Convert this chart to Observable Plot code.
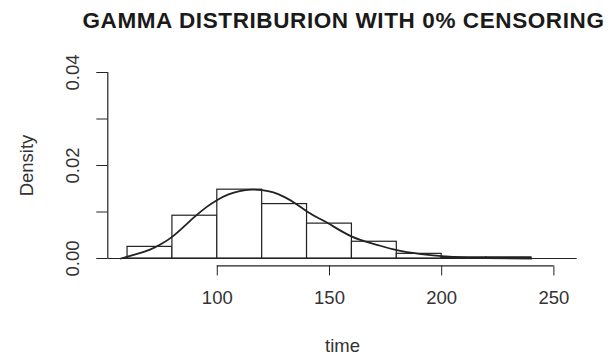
<!DOCTYPE html>
<html>
<head>
<meta charset="utf-8">
<script src="https://cdn.jsdelivr.net/npm/d3@7"></script>
<script src="https://cdn.jsdelivr.net/npm/@observablehq/plot@0.6"></script>
<style>
  html, body { margin: 0; padding: 0; background: #fff; }
  svg { font-family: "Liberation Sans", Arial, sans-serif; }
</style>
</head>
<body>
<div id="chart"></div>
<script>
const titleText = "GAMMA DISTRIBURION WITH 0% CENSORING";
const xLabel = "time";
const yLabel = "Density";

// histogram bins (time) and densities
const binStart = [60, 80, 100, 120, 140, 160, 180, 200, 220];
const binEnd   = [80, 100, 120, 140, 160, 180, 200, 220, 240];
const binDensity = [0.0025, 0.0092, 0.0148, 0.0117, 0.0075, 0.0036, 0.0010, 0.00025, 0.00025];

// fitted gamma density curve
const curveTime    = [57, 60, 65, 70, 75, 80, 85, 90, 95, 100, 105, 110, 115, 120, 125, 130, 135, 140, 145, 150, 160, 170, 180, 190, 200, 210, 220, 240];
const curveDensity = [0.0000, 0.0004, 0.0011, 0.0019, 0.0031, 0.0047, 0.0068, 0.0090, 0.0110, 0.0126, 0.0138, 0.0145, 0.0148, 0.0147, 0.0142, 0.0132, 0.0118, 0.0101, 0.0087, 0.0074, 0.0047, 0.0031, 0.0018, 0.0010, 0.0005, 0.0002, 0.0001, 0.0000];

const xTicks = [100, 150, 200, 250];
const yTicks = [0, 0.01, 0.02, 0.03, 0.04];
const yTickLabels = [0, 0.02, 0.04];

const bins = binStart.map((s, i) => ({x1: s, x2: binEnd[i], y: binDensity[i]}));
const curve = curveTime.map((t, i) => ({t, d: curveDensity[i]}));

const ink = "#333";
const fs = 18.5;

const chart = Plot.plot({
  width: 608,
  height: 355,
  marginLeft: 107.3,
  marginRight: 31.3,
  marginTop: 64.56,
  marginBottom: 89.56,
  style: {fontFamily: "'Liberation Sans', Arial, sans-serif", fontSize: fs + "px", color: ink, background: "#fff"},
  x: {domain: [51.2, 260.4]},
  y: {domain: [-0.0016, 0.0416]},
  marks: [
    Plot.rectY(bins, {x1: "x1", x2: "x2", y: "y", fill: "#fff", stroke: "#222", strokeWidth: 1.2}),
    Plot.ruleY([0], {stroke: "#222", strokeWidth: 1.2}),
    Plot.line(curve, {x: "t", y: "d", curve: "natural", stroke: "#222", strokeWidth: 1.8}),
    // axis lines
    Plot.ruleX([51.2], {y1: 0, y2: 0.04, stroke: "#222", strokeWidth: 1.2}),
    Plot.ruleY([-0.0016], {x1: 100, x2: 250, stroke: "#222", strokeWidth: 1.2}),
    // ticks
    Plot.axisX(xTicks, {tickSize: 10, tickPadding: 15, label: null, stroke: "#222", fill: ink, fontSize: fs}),
    Plot.axisY(yTicks, {tickSize: 11, tickFormat: () => "", label: null, stroke: "#222"}),
    Plot.text(yTickLabels, {y: d => d, text: d => d.toFixed(2), frameAnchor: "left", textAnchor: "middle", lineAnchor: "middle", dx: -34.5, rotate: -90, fill: ink, fontSize: fs}),
    Plot.text([yLabel], {frameAnchor: "left", textAnchor: "middle", lineAnchor: "middle", dx: -81, rotate: -90, fill: ink, fontSize: fs}),
    Plot.text([xLabel], {frameAnchor: "bottom", lineAnchor: "middle", dy: 80.5, fill: ink, fontSize: fs}),
    Plot.text([titleText], {frameAnchor: "top", lineAnchor: "middle", dy: -44, dx: 1, fill: "#1a1a1a", fontSize: 22.5, fontWeight: "bold", className: "chart-title"})
  ]
});
d3.select(chart).selectAll(".chart-title text").attr("letter-spacing", "0.6px");
document.getElementById("chart").appendChild(chart);
</script>
</body>
</html>
